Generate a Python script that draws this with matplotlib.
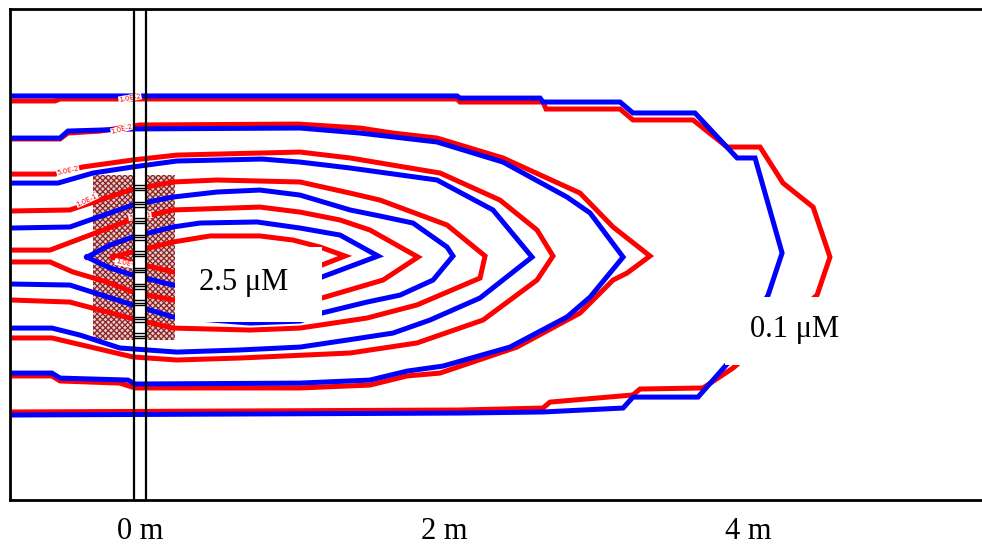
import matplotlib
matplotlib.use('Agg')
import matplotlib.pyplot as plt
from matplotlib.patches import Rectangle
import numpy as np

plt.rcParams['font.family'] = ['Liberation Serif', 'DejaVu Serif']
plt.rcParams['hatch.linewidth'] = 0.9

# ---- digitised contour paths (metres; x downstream of the well, y across) ----
# outermost level (0.1 uM)
a_blue_x = [-0.855, 2.086, 2.105, 2.632, 2.651, 3.158, 3.243, 3.651, 3.928, 4.046, 4.224, 4.132,
            3.868, 3.671, 3.243, 3.178, 2.651, 2.105, -0.855]
a_blue_y = [1.053, 1.053, 1.039, 1.039, 1.013, 1.013, 0.941, 0.941, 0.645, 0.645, 0.020, -0.257,
            -0.704, -0.928, -0.928, -1.000, -1.026, -1.033, -1.046]
a_red_x = [-0.855, -0.559, -0.526, 2.086, 2.105, 2.651, 2.671, 3.158, 3.243, 3.638, 3.862, 4.079,
           4.230, 4.428, 4.539, 4.454, 3.901, 3.704, 3.289, 3.243, 2.697, 2.651, 2.105, -0.855]
a_red_y = [1.020, 1.020, 1.033, 1.033, 1.013, 1.013, 0.967, 0.967, 0.895, 0.895, 0.717, 0.717,
           0.480, 0.322, -0.007, -0.257, -0.737, -0.868, -0.875, -0.914, -0.961, -1.000, -1.013, -1.026]

b_blue_x = [-0.855, -0.526, -0.474, -0.033, 1.053, 1.447, 1.954, 2.388, 2.809, 2.961, 3.178, 2.961,
            2.809, 2.434, 1.993, 1.757, 1.513, 1.053, -0.033, -0.079, -0.526, -0.579, -0.855]
b_blue_y = [0.776, 0.776, 0.822, 0.836, 0.842, 0.809, 0.750, 0.618, 0.388, 0.283, -0.007, -0.270,
            -0.401, -0.599, -0.724, -0.757, -0.816, -0.836, -0.842, -0.816, -0.803, -0.770, -0.770]
b_red_x = [-0.855, -0.526, -0.474, -0.263, 0.0, 1.039, 1.447, 1.664, 1.954, 2.388, 2.895, 3.112, 3.355,
           3.204, 3.112, 2.895, 2.480, 1.974, 1.757, 1.513, 1.053, -0.033, -0.132, -0.526, -0.579, -0.855]
b_red_y = [0.770, 0.770, 0.809, 0.822, 0.862, 0.868, 0.842, 0.809, 0.776, 0.645, 0.414, 0.191, 0.0,
           -0.112, -0.158, -0.375, -0.599, -0.770, -0.789, -0.849, -0.868, -0.868, -0.836, -0.822, -0.789, -0.789]

c_red_x = [-0.855, -0.559, -0.375, -0.046, 0.243, 1.053, 1.382, 1.974, 2.368, 2.612, 2.717,
           2.612, 2.257, 1.822, 1.382, 0.658, 0.243, -0.046, -0.579, -0.855]
c_red_y = [0.539, 0.539, 0.586, 0.632, 0.664, 0.684, 0.645, 0.546, 0.368, 0.171, 0.0,
           -0.158, -0.421, -0.572, -0.638, -0.671, -0.684, -0.664, -0.539, -0.539]
c_blue_x = [-0.855, -0.539, -0.309, -0.046, 0.243, 0.803, 1.053, 1.382, 1.954, 2.322, 2.579,
            2.237, 1.908, 1.664, 1.362, 1.053, 0.658, 0.243, -0.132, -0.395, -0.579, -0.855]
c_blue_y = [0.480, 0.480, 0.546, 0.586, 0.625, 0.638, 0.618, 0.579, 0.500, 0.303, -0.007,
            -0.276, -0.421, -0.507, -0.553, -0.599, -0.618, -0.632, -0.605, -0.520, -0.474, -0.474]

d_red_x = [-0.855, -0.461, -0.066, 0.217, 0.507, 1.053, 1.382, 1.579, 2.020, 2.270,
           2.237, 1.822, 1.493, 1.053, 0.724, 0.217, -0.066, -0.461, -0.855]
d_red_y = [0.296, 0.303, 0.434, 0.487, 0.500, 0.487, 0.414, 0.368, 0.204, 0.0,
           -0.145, -0.322, -0.408, -0.474, -0.487, -0.474, -0.408, -0.303, -0.289]
d_blue_x = [-0.855, -0.461, -0.046, 0.217, 0.507, 0.789, 1.053, 1.382, 1.579, 1.796, 2.020, 2.059,
            1.928, 1.711, 1.493, 1.197, 1.053, 0.724, 0.217, -0.046, -0.461, -0.855]
d_blue_y = [0.184, 0.191, 0.336, 0.388, 0.421, 0.434, 0.401, 0.303, 0.263, 0.217, 0.059, 0.0,
            -0.158, -0.257, -0.303, -0.375, -0.428, -0.441, -0.401, -0.322, -0.191, -0.184]

e_red_x = [-0.855, -0.592, -0.329, -0.066, 0.217, 0.789, 1.053, 1.316, 1.513, 1.829,
           1.599, 1.197, 0.724, 0.217, -0.046, -0.217, -0.441, -0.592, -0.855]
e_red_y = [0.039, 0.039, 0.138, 0.237, 0.303, 0.322, 0.289, 0.237, 0.171, -0.007,
           -0.158, -0.276, -0.316, -0.289, -0.237, -0.171, -0.105, -0.039, -0.039]
e_blue_x = [-0.349, -0.197, -0.046, 0.217, 0.395, 0.770, 1.053, 1.316, 1.566,
            1.197, 0.724, 0.217, -0.046, -0.197, -0.349]
e_blue_y = [-0.007, 0.072, 0.125, 0.191, 0.217, 0.224, 0.184, 0.138, 0.0,
            -0.138, -0.204, -0.191, -0.125, -0.079, -0.007]

f_red_x = [-0.178, 0.0, 0.217, 0.461, 0.789, 1.007, 1.184, 1.349, 1.197, 0.724, 0.217, 0.0, -0.178]
f_red_y = [-0.007, 0.039, 0.092, 0.132, 0.132, 0.105, 0.059, 0.0, -0.059, -0.092, -0.105, -0.053, -0.007]

red_paths = [(a_red_x, a_red_y), (b_red_x, b_red_y), (c_red_x, c_red_y),
             (d_red_x, d_red_y), (e_red_x, e_red_y), (f_red_x, f_red_y)]
blue_paths = [(a_blue_x, a_blue_y), (b_blue_x, b_blue_y), (c_blue_x, c_blue_y),
              (d_blue_x, d_blue_y), (e_blue_x, e_blue_y)]

# inline contour labels (tiny, on the lines near the well)
inline_label_x = [-0.066, -0.118, -0.474, -0.349, 0.0, -0.079]
inline_label_y = [1.040, 0.836, 0.559, 0.368, 0.263, -0.053]
inline_label_rot = [10, 15, 12, 25, 8, -12]
inline_label_text = ["1.0E-2", "1.0E-2", "5.0E-2", "1.0E-1", "5.0E-1", "1.0E+0"]

x_ticks = [0, 2, 4]
x_tick_labels = ["0 m", "2 m", "4 m"]

# annotations
label_hi = "2.5 \u03bcM"
label_lo = "0.1 \u03bcM"

# ---- figure ----
fig = plt.figure(figsize=(9.82, 5.44), dpi=100)
ax = fig.add_axes([10 / 982, 44 / 544, 972 / 982, 491 / 544])
ax.set_xlim(-0.855, 5.539)
ax.set_ylim(-1.605, 1.625)

# screened interval (hatched)
ax.add_patch(Rectangle((-0.309, -0.553), 0.539, 1.086, facecolor='#e6cccc',
                       edgecolor='#8b2525', hatch='xxxxxx', linewidth=0, zorder=1))

for xs, ys in red_paths:
    ax.plot(xs, ys, color='#ff0000', lw=3.6, solid_joinstyle='miter', zorder=2)
for xs, ys in blue_paths:
    ax.plot(xs, ys, color='#0000ff', lw=3.6, solid_joinstyle='miter', zorder=2.1)

for tx, ty, tr, tt in zip(inline_label_x, inline_label_y, inline_label_rot, inline_label_text):
    ax.text(tx, ty, tt, color='#ff0000', fontsize=5, rotation=tr, ha='center', va='center',
            family=['DejaVu Sans'], zorder=2.5,
            bbox=dict(facecolor='white', edgecolor='none', pad=0.3))

# well casing
ax.add_patch(Rectangle((-0.035, -0.553), 0.07, 1.086, facecolor='white', edgecolor='none', zorder=3))
for yc in np.arange(-0.54, 0.52, 0.108):
    for dy in (0.0, 0.016, 0.032):
        ax.plot([-0.03, 0.03], [yc + dy, yc + dy], color='black', lw=1.0, zorder=3.1)
for xw in (-0.039, 0.039):
    ax.axvline(xw, color='black', lw=1.6, zorder=3.2)

# label boxes
ax.add_patch(Rectangle((0.230, -0.432), 0.967, 0.491, facecolor='white', edgecolor='none', zorder=4))
ax.text(0.68, -0.171, label_hi, fontsize=22, ha='center', va='center', zorder=4.1)
ax.add_patch(Rectangle((3.849, -0.717), 0.822, 0.447, facecolor='white', edgecolor='none', zorder=4))
ax.text(4.309, -0.485, label_lo, fontsize=22, ha='center', va='center', zorder=4.1)

# axes styling
ax.set_xticks(x_ticks)
ax.set_xticklabels(x_tick_labels, fontsize=22)
ax.set_yticks([])
ax.tick_params(axis='x', length=0, pad=12)
ax.spines['right'].set_visible(False)
for s in ('left', 'top', 'bottom'):
    ax.spines[s].set_linewidth(2)
    ax.spines[s].set_color('black')

fig.savefig('out.png', dpi=100)
